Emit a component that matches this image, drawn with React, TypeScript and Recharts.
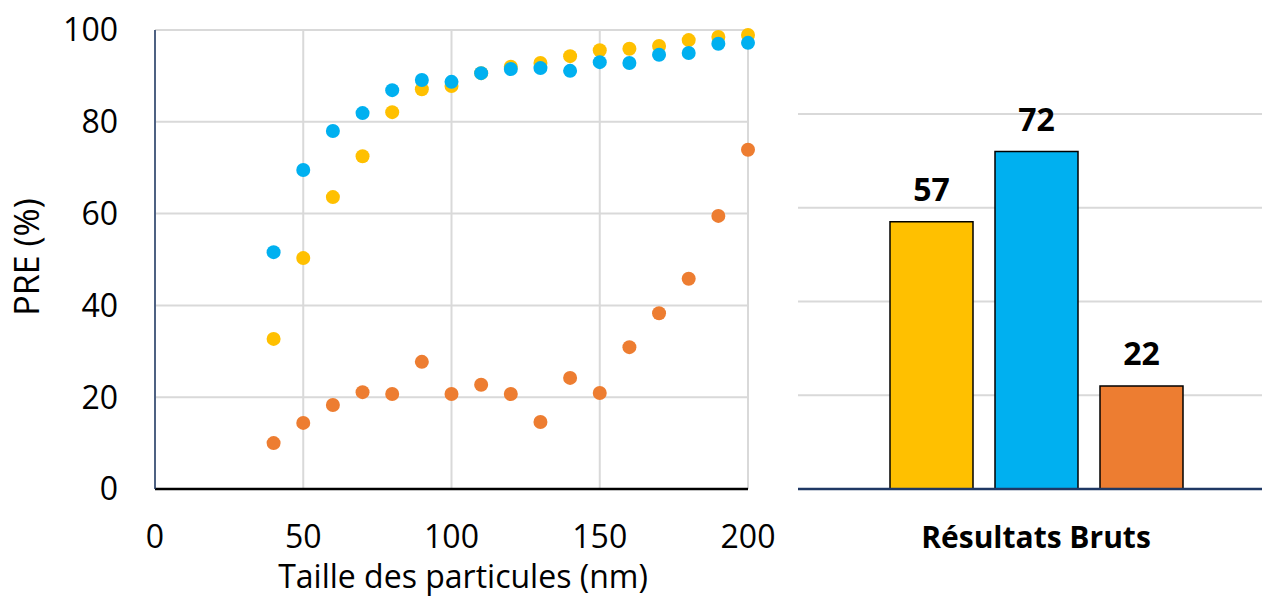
import React from 'react';
import {
  ScatterChart,
  Scatter,
  XAxis,
  YAxis,
  CartesianGrid,
  BarChart,
  Bar,
  LabelList,
  Label,
} from 'recharts';

const FONT = '"Open Sans", "Liberation Sans", sans-serif';

// Particle sizes (nm)
const particleSizes = [40, 50, 60, 70, 80, 90, 100, 110, 120, 130, 140, 150, 160, 170, 180, 190, 200];
// PRE (%) per series
const yellowPRE = [32.7, 50.3, 63.6, 72.5, 82.1, 87.1, 87.8, 90.6, 92.0, 92.8, 94.3, 95.6, 95.9, 96.5, 97.8, 98.5, 98.9];
const bluePRE = [51.6, 69.5, 78.0, 81.9, 86.9, 89.1, 88.7, 90.6, 91.5, 91.7, 91.1, 93.0, 92.8, 94.6, 95.0, 97.0, 97.2];
const orangePRE = [10.0, 14.4, 18.3, 21.1, 20.7, 27.7, 20.7, 22.7, 20.7, 14.6, 24.2, 20.9, 30.9, 38.3, 45.8, 59.5, 73.9];

const xTicks = [0, 50, 100, 150, 200];
const yTicks = [0, 20, 40, 60, 80, 100];

// Raw results bar chart
const barCategories = ['Résultats Bruts'];
const rawYellow = [57];
const rawBlue = [72];
const rawOrange = [22];
const barTicks = [0, 20, 40, 60, 80];

const YELLOW = '#FFC000';
const BLUE = '#00B0F0';
const ORANGE = '#ED7D31';
const GRID = '#D9D9D9';
const NAVY = '#1F3864';

const toPoints = (vals: number[]) => particleSizes.map((x, i) => ({ x, y: vals[i] }));
const yellowData = toPoints(yellowPRE);
const blueData = toPoints(bluePRE);
const orangeData = toPoints(orangePRE);

const barData = barCategories.map((name, i) => ({
  name,
  yellow: rawYellow[i],
  blue: rawBlue[i],
  orange: rawOrange[i],
}));

const dot = (color: string) => (props: any) =>
  props.cx == null ? <g /> : <circle cx={props.cx} cy={props.cy} r={7} fill={color} />;

const tickStyle = { fontSize: 32, fontFamily: FONT, fill: '#000' };
const barLabelStyle = { fontSize: 32, fontFamily: FONT, fontWeight: 700, fill: '#000' };

export default function App() {
  return (
    <div style={{ position: 'absolute', left: 0, top: 0, width: 1262, height: 597, fontFamily: FONT, background: '#fff' }}>
      <div style={{ position: 'absolute', left: 0, top: 0 }}>
        <ScatterChart width={780} height={597} margin={{ top: 30, right: 32, bottom: 0, left: 0 }}>
          <CartesianGrid stroke={GRID} strokeWidth={2} />
          <XAxis
            type="number"
            dataKey="x"
            domain={[0, 200]}
            ticks={xTicks}
            height={108}
            axisLine={{ stroke: '#000', strokeWidth: 2.5 }}
            tickLine={false}
            tickSize={0}
            tickMargin={36}
            tick={tickStyle}
          >
            <Label
              content={() => (
                <text x={463} y={588} textAnchor="middle" fontSize={32} fontFamily={FONT} fill="#000">
                  Taille des particules (nm)
                </text>
              )}
            />
          </XAxis>
          <YAxis
            type="number"
            dataKey="y"
            domain={[0, 100]}
            ticks={yTicks}
            width={155}
            axisLine={{ stroke: NAVY, strokeWidth: 1.5 }}
            tickLine={false}
            tickSize={0}
            tickMargin={37}
            tick={tickStyle}
          >
            <Label
              content={() => (
                <text
                  x={39}
                  y={257}
                  transform="rotate(-90, 39, 257)"
                  textAnchor="middle"
                  fontSize={34}
                  fontFamily={FONT}
                  fill="#000"
                >
                  PRE (%)
                </text>
              )}
            />
          </YAxis>
          <Scatter data={yellowData} fill={YELLOW} shape={dot(YELLOW)} isAnimationActive={false} />
          <Scatter data={blueData} fill={BLUE} shape={dot(BLUE)} isAnimationActive={false} />
          <Scatter data={orangeData} fill={ORANGE} shape={dot(ORANGE)} isAnimationActive={false} />
        </ScatterChart>
      </div>
      <div style={{ position: 'absolute', left: 780, top: 0 }}>
        <BarChart
          width={482}
          height={597}
          data={barData}
          margin={{ top: 114, right: 0, bottom: 0, left: 18 }}
          barSize={83}
          barGap={22}
        >
          <CartesianGrid stroke={GRID} strokeWidth={2} vertical={false} />
          <XAxis
            dataKey="name"
            height={108}
            padding={{ left: 12, right: 0 }}
            axisLine={{ stroke: NAVY, strokeWidth: 2.5 }}
            tickLine={false}
            tickSize={0}
            tickMargin={38}
            tick={{ fontSize: 30, fontFamily: FONT, fontWeight: 700, fill: '#000' }}
          />
          <YAxis hide domain={[0, 80]} ticks={barTicks} />
          <Bar dataKey="yellow" fill={YELLOW} stroke="#000" strokeWidth={1.5} isAnimationActive={false}>
            <LabelList dataKey="yellow" position="top" offset={21} style={barLabelStyle} />
          </Bar>
          <Bar dataKey="blue" fill={BLUE} stroke="#000" strokeWidth={1.5} isAnimationActive={false}>
            <LabelList dataKey="blue" position="top" offset={21} style={barLabelStyle} />
          </Bar>
          <Bar dataKey="orange" fill={ORANGE} stroke="#000" strokeWidth={1.5} isAnimationActive={false}>
            <LabelList dataKey="orange" position="top" offset={21} style={barLabelStyle} />
          </Bar>
        </BarChart>
      </div>
    </div>
  );
}
